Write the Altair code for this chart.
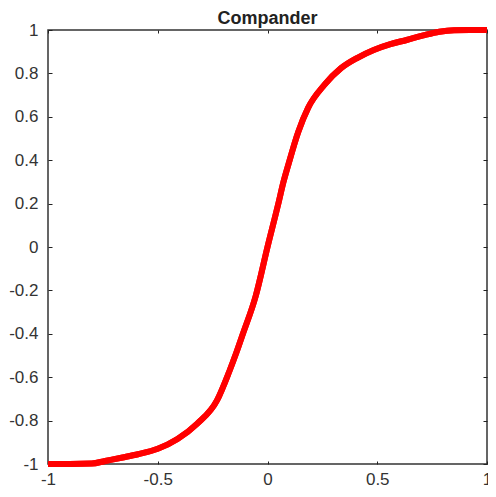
import altair as alt
import pandas as pd

# Curve
x_vals = [-1.0, -0.9, -0.8, -0.74, -0.66, -0.59, -0.5, -0.41, -0.32, -0.23, -0.175, -0.143,
          -0.112, -0.054, 0.0, 0.051, 0.072, 0.096, 0.14, 0.185, 0.26, 0.335, 0.41, 0.484,
          0.56, 0.634, 0.71, 0.783, 0.85, 0.92, 1.0]
y_vals = [-1.0, -1.0, -0.998, -0.986, -0.97, -0.955, -0.93, -0.885, -0.814, -0.707, -0.576, -0.49,
          -0.40, -0.227, 0.0, 0.207, 0.297, 0.383, 0.53, 0.641, 0.748, 0.824, 0.872, 0.908,
          0.935, 0.954, 0.975, 0.992, 0.999, 1.0, 1.0]

x_ticks = [-1, -0.5, 0, 0.5, 1]
y_ticks = [-1, -0.8, -0.6, -0.4, -0.2, 0, 0.2, 0.4, 0.6, 0.8, 1]

df = pd.DataFrame({"x": x_vals, "y": y_vals})

FONT = "Liberation Sans"
LABEL_COLOR = "#333333"

xscale = alt.Scale(domain=[-1, 1], nice=False, zero=False)
yscale = alt.Scale(domain=[-1, 1], nice=False, zero=False)

def xaxis(orient, labels):
    return alt.Axis(orient=orient, values=x_ticks, labels=labels, title=None, grid=False,
                    domain=False, tickSize=3, offset=-3, tickColor="#222222", tickWidth=1,
                    labelPadding=20, labelBaseline="alphabetic",
                    labelFont=FONT, labelFontSize=17, labelColor=LABEL_COLOR,
                    labelExpr="'' + datum.value", labelFlush=False, labelOverlap=False)

def yaxis(orient, labels):
    return alt.Axis(orient=orient, values=y_ticks, labels=labels, title=None, grid=False,
                    domain=False, tickSize=4, offset=-4, tickColor="#222222", tickWidth=1,
                    labelPadding=10, labelFont=FONT, labelFontSize=17, labelColor=LABEL_COLOR,
                    labelExpr="'' + datum.value", labelFlush=False, labelOverlap=False)

base = alt.Chart(df).mark_line(color="#ff0000", strokeWidth=6, interpolate="monotone")

main = base.encode(
    x=alt.X("x:Q", scale=xscale, axis=xaxis("bottom", True)),
    y=alt.Y("y:Q", scale=yscale, axis=yaxis("left", True)),
)
mirror = base.encode(
    x=alt.X("x:Q", scale=xscale, axis=xaxis("top", False)),
    y=alt.Y("y:Q", scale=yscale, axis=yaxis("right", False)),
)

chart = alt.layer(main, mirror).resolve_axis(x="independent", y="independent").properties(
    width=439,
    height=434,
    title=alt.TitleParams("Compander", font=FONT, fontSize=18, fontWeight="bold",
                          color="#222222", anchor="middle", frame="group", offset=-10),
    autosize=alt.AutoSizeParams(type="none"),
    padding={"left": 40, "top": 22, "right": 1, "bottom": 25},
).configure_view(stroke="#333333", strokeWidth=1.5)

chart.save("out.html", embed_options={"renderer": "svg", "actions": False})
